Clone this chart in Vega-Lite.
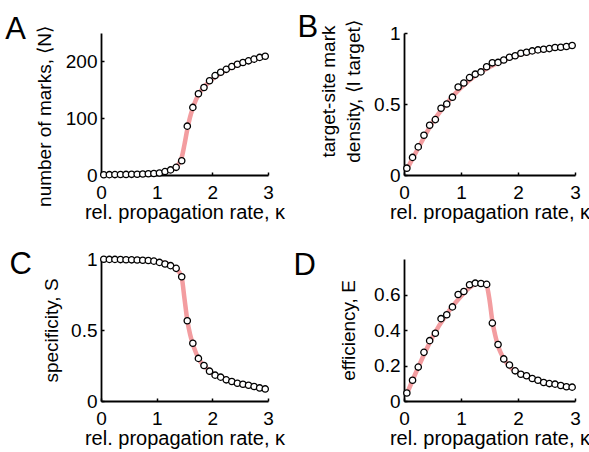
{
  "$schema": "https://vega.github.io/schema/vega-lite/v6.json",
  "padding": {"left": 5, "top": 11, "right": 5, "bottom": 2},
  "config": {
    "font": "Liberation Sans",
    "view": {"stroke": null},
    "axis": {
      "domainColor": "black", "domainWidth": 1.8, "tickColor": "black", "tickWidth": 1.5, "tickSize": -3,
      "labelFontSize": 19, "labelColor": "black", "labelFont": "Liberation Sans", "labelFlush": false,
      "titleFontSize": 19, "titleFontWeight": "normal", "titleColor": "black", "titleFont": "Liberation Sans",
      "grid": false
    },
    "axisX": {"labelPadding": 11, "titlePadding": 0, "titleFontSize": 20},
    "axisY": {"labelPadding": 7},
    "title": {"fontSize": 31, "fontWeight": "normal", "color": "black", "anchor": "start", "frame": "bounds", "font": "Liberation Sans", "baseline": "alphabetic", "offset": 0}
  },
  "datasets": {
    "a_pts": [
      {"k":0.05,"v":0.5},{"k":0.15,"v":0.6},{"k":0.25,"v":0.7},{"k":0.35,"v":0.9},{"k":0.45,"v":1.0},
      {"k":0.55,"v":1.2},{"k":0.65,"v":1.4},{"k":0.75,"v":1.7},{"k":0.85,"v":2.1},{"k":0.95,"v":2.7},
      {"k":1.05,"v":3.5},{"k":1.15,"v":6},{"k":1.25,"v":9},{"k":1.35,"v":13.5},{"k":1.45,"v":25},
      {"k":1.55,"v":86},{"k":1.65,"v":119},{"k":1.75,"v":143},{"k":1.85,"v":154},{"k":1.95,"v":166},
      {"k":2.05,"v":175},{"k":2.15,"v":181},{"k":2.25,"v":186},{"k":2.35,"v":191},{"k":2.45,"v":195},
      {"k":2.55,"v":198},{"k":2.65,"v":201},{"k":2.75,"v":204},{"k":2.85,"v":207},{"k":2.95,"v":209}
    ],
    "a_line": [
      {"k":0.05,"v":0.3},{"k":0.25,"v":0.5},{"k":0.5,"v":0.9},{"k":0.75,"v":1.6},{"k":1.0,"v":3},
      {"k":1.1,"v":4.5},{"k":1.2,"v":7},{"k":1.3,"v":11},{"k":1.35,"v":14},{"k":1.4,"v":20},
      {"k":1.45,"v":31},{"k":1.5,"v":54},{"k":1.55,"v":80},{"k":1.6,"v":102},{"k":1.65,"v":118},
      {"k":1.7,"v":131},{"k":1.75,"v":141},{"k":1.8,"v":149},{"k":1.9,"v":160},{"k":2.0,"v":169},
      {"k":2.2,"v":182},{"k":2.4,"v":192},{"k":2.6,"v":199},{"k":2.8,"v":205},{"k":2.95,"v":209}
    ],
    "b_pts": [
      {"k":0.05,"v":0.048},{"k":0.15,"v":0.124},{"k":0.25,"v":0.198},{"k":0.35,"v":0.28},{"k":0.45,"v":0.35},
      {"k":0.55,"v":0.39},{"k":0.65,"v":0.47},{"k":0.75,"v":0.5},{"k":0.85,"v":0.548},{"k":0.95,"v":0.62},
      {"k":1.05,"v":0.648},{"k":1.15,"v":0.686},{"k":1.25,"v":0.71},{"k":1.35,"v":0.726},{"k":1.45,"v":0.762},
      {"k":1.55,"v":0.79},{"k":1.65,"v":0.793},{"k":1.75,"v":0.81},{"k":1.85,"v":0.829},{"k":1.95,"v":0.84},
      {"k":2.05,"v":0.857},{"k":2.15,"v":0.864},{"k":2.25,"v":0.874},{"k":2.35,"v":0.881},{"k":2.45,"v":0.886},
      {"k":2.55,"v":0.89},{"k":2.65,"v":0.898},{"k":2.75,"v":0.9},{"k":2.85,"v":0.905},{"k":2.95,"v":0.912}
    ],
    "b_line": [
      {"k":0.05,"v":0.04},{"k":0.25,"v":0.19},{"k":0.5,"v":0.37},{"k":0.75,"v":0.505},{"k":1.0,"v":0.615},
      {"k":1.25,"v":0.7},{"k":1.5,"v":0.76},{"k":1.75,"v":0.808},{"k":2.0,"v":0.845},{"k":2.25,"v":0.87},
      {"k":2.5,"v":0.888},{"k":2.75,"v":0.9},{"k":2.95,"v":0.91}
    ],
    "c_pts": [
      {"k":0.05,"v":0.998},{"k":0.15,"v":0.997},{"k":0.25,"v":0.997},{"k":0.35,"v":0.996},{"k":0.45,"v":0.995},
      {"k":0.55,"v":0.994},{"k":0.65,"v":0.993},{"k":0.75,"v":0.991},{"k":0.85,"v":0.989},{"k":0.95,"v":0.985},
      {"k":1.05,"v":0.976},{"k":1.15,"v":0.965},{"k":1.25,"v":0.953},{"k":1.35,"v":0.934},{"k":1.45,"v":0.875},
      {"k":1.55,"v":0.565},{"k":1.65,"v":0.407},{"k":1.75,"v":0.3},{"k":1.85,"v":0.25},{"k":1.95,"v":0.21},
      {"k":2.05,"v":0.182},{"k":2.15,"v":0.168},{"k":2.25,"v":0.149},{"k":2.35,"v":0.137},{"k":2.45,"v":0.125},
      {"k":2.55,"v":0.118},{"k":2.65,"v":0.111},{"k":2.75,"v":0.102},{"k":2.85,"v":0.092},{"k":2.95,"v":0.085}
    ],
    "c_line": [
      {"k":0.05,"v":0.999},{"k":0.5,"v":0.996},{"k":0.9,"v":0.988},{"k":1.1,"v":0.975},{"k":1.2,"v":0.965},
      {"k":1.3,"v":0.945},{"k":1.35,"v":0.93},{"k":1.4,"v":0.91},{"k":1.45,"v":0.87},{"k":1.5,"v":0.72},
      {"k":1.55,"v":0.57},{"k":1.6,"v":0.47},{"k":1.65,"v":0.4},{"k":1.7,"v":0.345},{"k":1.75,"v":0.3},
      {"k":1.8,"v":0.27},{"k":1.9,"v":0.23},{"k":2.0,"v":0.195},{"k":2.2,"v":0.16},{"k":2.4,"v":0.13},
      {"k":2.6,"v":0.113},{"k":2.8,"v":0.097},{"k":2.95,"v":0.087}
    ],
    "d_pts": [
      {"k":0.05,"v":0.045},{"k":0.15,"v":0.117},{"k":0.25,"v":0.191},{"k":0.35,"v":0.274},{"k":0.45,"v":0.34},
      {"k":0.55,"v":0.382},{"k":0.65,"v":0.464},{"k":0.75,"v":0.486},{"k":0.85,"v":0.53},{"k":0.95,"v":0.6},
      {"k":1.05,"v":0.617},{"k":1.15,"v":0.655},{"k":1.25,"v":0.664},{"k":1.35,"v":0.662},{"k":1.45,"v":0.657},
      {"k":1.55,"v":0.439},{"k":1.65,"v":0.318},{"k":1.75,"v":0.237},{"k":1.85,"v":0.203},{"k":1.95,"v":0.17},
      {"k":2.05,"v":0.151},{"k":2.15,"v":0.142},{"k":2.25,"v":0.127},{"k":2.35,"v":0.117},{"k":2.45,"v":0.104},
      {"k":2.55,"v":0.098},{"k":2.65,"v":0.095},{"k":2.75,"v":0.087},{"k":2.85,"v":0.08},{"k":2.95,"v":0.078}
    ],
    "d_line": [
      {"k":0.05,"v":0.04},{"k":0.25,"v":0.19},{"k":0.5,"v":0.36},{"k":0.75,"v":0.49},{"k":1.0,"v":0.59},
      {"k":1.1,"v":0.625},{"k":1.2,"v":0.65},{"k":1.3,"v":0.662},{"k":1.4,"v":0.662},{"k":1.45,"v":0.65},
      {"k":1.5,"v":0.57},{"k":1.55,"v":0.45},{"k":1.6,"v":0.37},{"k":1.65,"v":0.31},{"k":1.7,"v":0.27},
      {"k":1.75,"v":0.24},{"k":1.8,"v":0.215},{"k":1.9,"v":0.18},{"k":2.0,"v":0.16},{"k":2.2,"v":0.135},
      {"k":2.4,"v":0.11},{"k":2.6,"v":0.097},{"k":2.8,"v":0.085},{"k":2.95,"v":0.078}
    ]
  },
  "columns": 2,
  "align": "all",
  "spacing": {"row": 27, "column": 6},
  "concat": [
    {
      "width": 167, "height": 142,
      "title": {"text": "A", "dx": -30, "dy": 24},
      "encoding": {
        "x": {"field": "k", "type": "quantitative", "scale": {"domain": [0, 3]}, "axis": {"values": [0,1,2,3], "title": "rel. propagation rate, κ"}},
        "y": {"field": "v", "type": "quantitative", "scale": {"domain": [0, 250]}, "axis": {"values": [0,100,200], "title": "number of marks, ⟨N⟩", "titlePadding": 11, "titleY": 83}}
      },
      "layer": [
        {"data": {"name": "a_line"}, "mark": {"type": "line", "color": "#f39da0", "strokeWidth": 4.5, "interpolate": "monotone"}},
        {"data": {"name": "a_pts"}, "mark": {"type": "point", "shape": "circle", "filled": true, "fill": "white", "stroke": "black", "strokeWidth": 1.3, "size": 40, "opacity": 1}}
      ]
    },
    {
      "width": 171, "height": 142,
      "title": {"text": "B", "dx": -22, "dy": 28},
      "encoding": {
        "x": {"field": "k", "type": "quantitative", "scale": {"domain": [0, 3]}, "axis": {"values": [0,1,2,3], "title": "rel. propagation rate, κ"}},
        "y": {"field": "v", "type": "quantitative", "scale": {"domain": [0, 1]}, "axis": {"values": [0,0.5,1], "format": "~g", "title": ["target-site mark", "density, ⟨I target⟩"], "titleLineHeight": 25, "titlePadding": 10, "titleY": 58}}
      },
      "layer": [
        {"data": {"name": "b_line"}, "mark": {"type": "line", "color": "#f39da0", "strokeWidth": 4.5, "interpolate": "monotone"}},
        {"data": {"name": "b_pts"}, "mark": {"type": "point", "shape": "circle", "filled": true, "fill": "white", "stroke": "black", "strokeWidth": 1.3, "size": 40, "opacity": 1}}
      ]
    },
    {
      "width": 167, "height": 142,
      "title": {"text": "C", "dx": -33, "dy": 35},
      "encoding": {
        "x": {"field": "k", "type": "quantitative", "scale": {"domain": [0, 3]}, "axis": {"values": [0,1,2,3], "title": "rel. propagation rate, κ"}},
        "y": {"field": "v", "type": "quantitative", "scale": {"domain": [0, 1]}, "axis": {"values": [0,0.5,1], "format": "~g", "title": "specificity, S", "titlePadding": 9}}
      },
      "layer": [
        {"data": {"name": "c_line"}, "mark": {"type": "line", "color": "#f39da0", "strokeWidth": 4.5, "interpolate": "monotone"}},
        {"data": {"name": "c_pts"}, "mark": {"type": "point", "shape": "circle", "filled": true, "fill": "white", "stroke": "black", "strokeWidth": 1.3, "size": 40, "opacity": 1}}
      ]
    },
    {
      "width": 171, "height": 142,
      "title": {"text": "D", "dx": -46, "dy": 27},
      "encoding": {
        "x": {"field": "k", "type": "quantitative", "scale": {"domain": [0, 3]}, "axis": {"values": [0,1,2,3], "title": "rel. propagation rate, κ"}},
        "y": {"field": "v", "type": "quantitative", "scale": {"domain": [0, 0.8]}, "axis": {"values": [0,0.2,0.4,0.6], "format": "~g", "title": "efficiency, E", "titlePadding": 15}}
      },
      "layer": [
        {"data": {"name": "d_line"}, "mark": {"type": "line", "color": "#f39da0", "strokeWidth": 4.5, "interpolate": "monotone"}},
        {"data": {"name": "d_pts"}, "mark": {"type": "point", "shape": "circle", "filled": true, "fill": "white", "stroke": "black", "strokeWidth": 1.3, "size": 40, "opacity": 1}}
      ]
    }
  ]
}
